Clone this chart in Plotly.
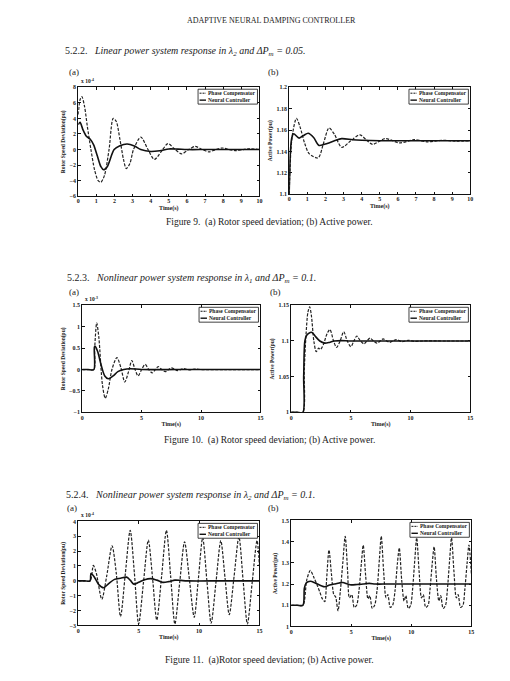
import plotly.graph_objects as go

# ---------------- DATA ----------------
# Figure 9(a): rotor speed deviation (x1e-4 pu)
f9a_pc_t = [0, 0.1, 0.2, 0.35, 0.5, 0.7, 0.9, 1.1, 1.25, 1.45, 1.7, 1.93, 2.1, 2.3, 2.5, 2.65, 2.85, 3.05,
            3.45, 3.85, 4.2, 4.6, 4.95, 5.3, 5.7, 6.1, 6.45, 6.85, 7.2, 7.6, 7.95, 8.35, 8.7, 9.1, 9.45, 10]
f9a_pc_v = [4.5, 6.4, 6.8, 5.5, 3.0, 0.0, -2.6, -4.0, -4.2, -3.3, 0.0, 4.0, 3.6, 1.3, -1.3, -2.45, -1.8, 0.0,
            1.6, 0.0, -1.27, -0.2, 0.76, 0.1, -0.55, 0.0, 0.4, 0.0, -0.3, 0.0, 0.2, 0.0, -0.15, 0.0, 0.1, 0.0]
f9a_nc_t = [0, 0.1, 0.25, 0.45, 0.65, 0.85, 1.05, 1.25, 1.4, 1.6, 1.98, 2.3, 2.7, 3.1, 3.45, 4.0, 4.5, 5.0,
            5.5, 6.0, 7, 8, 9, 10]
f9a_nc_v = [3.2, 3.5, 2.6, 1.7, 1.35, 0.6, -0.8, -2.2, -2.6, -2.2, 0.0, 0.5, 0.72, 0.45, 0.0, -0.25, -0.15, 0.08,
            0.05, 0.0, 0, 0, 0, 0]

# Figure 9(b): active power (pu)
f9b_pc_t = [0, 0.1, 0.2, 0.4, 0.6, 0.85, 1.1, 1.6, 1.9, 2.2, 2.5, 2.9, 3.4, 3.9, 4.25, 4.6, 5.3, 6.1, 6.9,
            7.65, 8.45, 9.2, 10]
f9b_pc_v = [1.1, 1.142, 1.158, 1.171, 1.163, 1.148, 1.138, 1.134, 1.148, 1.162, 1.156, 1.1438, 1.150, 1.1556,
            1.151, 1.1466, 1.152, 1.148, 1.151, 1.149, 1.1505, 1.1497, 1.15]
f9b_nc_t = [0, 0.07, 0.15, 0.25, 0.55, 0.8, 1.05, 1.35, 1.65, 2.1, 2.5, 2.9, 3.5, 4.0, 5, 6, 8, 10]
f9b_nc_v = [1.1, 1.14, 1.153, 1.1565, 1.1525, 1.155, 1.157, 1.153, 1.1457, 1.1475, 1.150, 1.152, 1.151,
            1.1505, 1.150, 1.15, 1.15, 1.15]

# Figure 10(a): rotor speed deviation (x1e-3 pu)
f10a_pc_t = [0, 0.5, 0.98, 1.05, 1.22, 1.4, 1.7, 1.94, 2.2, 2.5, 2.92, 3.25, 3.58, 3.9, 4.17, 4.45, 4.7, 5.0,
             5.3, 5.6, 5.9, 6.15, 6.4, 6.7, 7.0, 7.5, 8.0, 8.5, 9.0, 9.5, 10, 12, 15]
f10a_pc_v = [0, 0, 0, 0.5, 1.09, 0.75, -0.35, -0.67, -0.45, 0.0, 0.28, 0.05, -0.29, -0.05, 0.21, 0.0, -0.15,
             0.0, 0.12, 0.0, -0.08, 0.0, 0.07, 0.0, -0.05, 0.04, -0.025, 0.02, -0.01, 0.01, 0, 0, 0]
f10a_nc_t = [0, 0.5, 0.98, 1.03, 1.1, 1.3, 1.6, 1.9, 2.2, 2.6, 3.0, 3.5, 4.0, 5, 8, 12, 15]
f10a_nc_v = [0, 0, 0, 0.53, 0.54, 0.42, 0.1, -0.15, -0.215, -0.15, -0.05, 0.0, 0.02, 0.0, 0, 0, 0]

# Figure 10(b): active power (pu)
f10b_pc_t = [0, 0.5, 0.98, 1.1, 1.25, 1.4, 1.55, 1.7, 1.9, 2.1, 2.3, 2.45, 2.7, 3.0, 3.25, 3.55, 3.8, 4.1,
             4.4, 4.7, 5.0, 5.25, 5.5, 5.8, 6.1, 6.35, 6.6, 6.9, 7.2, 7.45, 7.7, 8.0, 8.25, 8.5, 8.8, 9.3,
             9.8, 10.3, 11, 13, 15]
f10b_pc_v = [1.0, 1.0, 1.0, 1.06, 1.11, 1.14, 1.148, 1.135, 1.1, 1.085, 1.09, 1.088, 1.095, 1.11, 1.116, 1.1,
             1.091, 1.1, 1.113, 1.1, 1.092, 1.1, 1.107, 1.1, 1.096, 1.1, 1.104, 1.1, 1.097, 1.1, 1.103, 1.1,
             1.098, 1.1, 1.102, 1.099, 1.101, 1.0995, 1.1, 1.1, 1.1]
f10b_nc_t = [0, 0.5, 0.98, 1.05, 1.15, 1.3, 1.6, 1.75, 2.0, 2.4, 2.8, 3.2, 3.6, 4.2, 5, 8, 12, 15]
f10b_nc_v = [1.0, 1.0, 1.0, 1.05, 1.1, 1.108, 1.112, 1.112, 1.107, 1.1, 1.097, 1.098, 1.1, 1.1005, 1.1, 1.1,
             1.1, 1.1]

# Figure 11(a): rotor speed deviation (x1e-4 pu)
f11a_pc_t = [0, 0.5, 0.98, 1.25, 1.5, 1.95, 2.35, 2.8, 3.15, 3.5, 3.9, 4.3, 4.65, 5.0, 5.4, 5.8, 6.15, 6.5,
             6.9, 7.3, 7.65, 8.0, 8.4, 8.8, 9.2, 9.6, 9.95, 10.3, 10.65, 11.0, 11.4, 11.8, 12.15, 12.5, 12.9,
             13.3, 13.65, 14.0, 14.4, 14.8, 15.0]
f11a_pc_v = [0, 0, 0, 1.04, 0.5, -1.24, 0.3, 2.36, 0.5, -2.4, 0.5, 3.4, 0.5, -2.9, -0.1, 2.74, 0.2, -2.63,
             0.3, 3.4, 0.3, -2.9, -0.1, 2.63, 0.1, -2.45, 0.2, 2.9, 0.0, -2.85, -0.1, 2.7, 0.2, -2.27, 0.3,
             2.96, 0.0, -2.9, -0.1, 2.7, 1.0]
f11a_nc_t = [0, 0.5, 0.98, 1.05, 1.3, 1.7, 2.1, 2.5, 3.0, 3.5, 4.0, 4.3, 4.6, 5.0, 5.5, 6.0, 6.5, 7.0, 7.5,
             8.0, 8.5, 9, 12, 15]
f11a_nc_v = [0, 0, 0, 0.5, 0.3, -0.25, -0.46, -0.2, 0.1, 0.18, 0.25, 0.05, -0.22, -0.1, 0.08, 0.15, 0.05,
             -0.1, -0.05, 0.05, 0.03, 0, 0, 0]

# Figure 11(b): active power (pu)
f11b_pc_t = [0, 0.5, 0.98, 1.3, 1.6, 1.9, 2.2, 2.4, 2.6, 2.8, 2.95, 3.15, 3.35, 3.55, 3.7, 3.9, 4.1, 4.3,
             4.5, 4.7, 4.85, 5.05, 5.25, 5.45, 5.65, 5.85, 6.0, 6.2, 6.4, 6.55, 6.75, 6.95, 7.15, 7.35, 7.5,
             7.7, 7.9, 8.05, 8.25, 8.45, 8.65, 8.85, 9.0, 9.2, 9.4, 9.55, 9.75, 9.95, 10.1, 10.3, 10.45,
             10.65, 10.85, 11.0, 11.2, 11.4, 11.55, 11.75, 11.9, 12.1, 12.3, 12.45, 12.65, 12.85, 13.0,
             13.2, 13.35, 13.55, 13.75, 13.9, 14.1, 14.3, 14.45, 14.65, 14.8, 15.0]
f11b_pc_v = [1.1, 1.1, 1.1, 1.22, 1.264, 1.23, 1.19, 1.16, 1.13, 1.117, 1.22, 1.36, 1.25, 1.15, 1.14,
             1.074, 1.17, 1.3, 1.425, 1.26, 1.135, 1.15, 1.09, 1.1, 1.17, 1.3, 1.383, 1.24, 1.13, 1.145,
             1.085, 1.1, 1.17, 1.32, 1.425, 1.26, 1.136, 1.15, 1.09, 1.1, 1.17, 1.3, 1.37, 1.22, 1.12,
             1.145, 1.085, 1.1, 1.17, 1.32, 1.418, 1.26, 1.135, 1.15, 1.09, 1.1, 1.17, 1.3, 1.376, 1.22,
             1.12, 1.145, 1.085, 1.1, 1.17, 1.32, 1.418, 1.26, 1.135, 1.15, 1.09, 1.1, 1.17, 1.3, 1.384,
             1.25]
f11b_nc_t = [0, 0.5, 0.98, 1.1, 1.25, 1.6, 2.0, 2.5, 2.8, 3.2, 3.6, 4.0, 4.3, 4.7, 5.0, 5.5, 6.0, 6.5,
             7.0, 8, 10, 12, 15]
f11b_nc_v = [1.1, 1.1, 1.1, 1.18, 1.205, 1.213, 1.205, 1.192, 1.187, 1.195, 1.2, 1.205, 1.207, 1.2, 1.196,
             1.198, 1.2, 1.203, 1.2, 1.2, 1.2, 1.2, 1.2]

# Axis ranges / tick steps
x_ranges = [[0, 10], [0, 10], [0, 15], [0, 15], [0, 15], [0, 15]]
x_dticks = [1, 1, 5, 5, 5, 5]
y_ranges = [[-6, 8], [1.1, 1.2], [-1, 1.5], [1.0, 1.15], [-3, 4], [1.0, 1.5]]
y_dticks = [2, 0.02, 0.5, 0.05, 1, 0.1]
y_titles = ["Rotor Speed Deviation(pu)", "Active Power(pu)"] * 3
exponents = ["x 10<sup>-4</sup>", None, "x 10<sup>-3</sup>", None, "x 10<sup>-4</sup>", None]
series_names = ["Phase Compensator", "Neural Controller"]

panels = [
    (f9a_pc_t, f9a_pc_v, f9a_nc_t, f9a_nc_v),
    (f9b_pc_t, f9b_pc_v, f9b_nc_t, f9b_nc_v),
    (f10a_pc_t, f10a_pc_v, f10a_nc_t, f10a_nc_v),
    (f10b_pc_t, f10b_pc_v, f10b_nc_t, f10b_nc_v),
    (f11a_pc_t, f11a_pc_v, f11a_nc_t, f11a_nc_v),
    (f11b_pc_t, f11b_pc_v, f11b_nc_t, f11b_nc_v),
]

# ---------------- LAYOUT ----------------
W, H = 510, 681
# plot boxes in page pixels: (left, right, top, bottom)
boxes = [(77, 260, 85, 195), (290, 473, 85, 193),
         (81, 261, 305, 413), (292, 473, 305, 413),
         (77, 260, 523, 628), (292, 474, 522, 629)]

def px(x):
    return x / W

def py(y):
    return 1 - y / H

SERIF = "Liberation Serif"
TXT = "#1a1a1a"

fig = go.Figure()
layout = dict(width=W, height=H, margin=dict(l=0, r=0, t=0, b=0),
              paper_bgcolor="white", plot_bgcolor="white", showlegend=False,
              font=dict(family=SERIF, color=TXT))
annotations = []
shapes = []

for i, (box, data) in enumerate(zip(boxes, panels)):
    n = i + 1
    xa = "x" if n == 1 else f"x{n}"
    ya = "y" if n == 1 else f"y{n}"
    l, r, t, b = box
    pc_t, pc_v, nc_t, nc_v = data
    fig.add_trace(go.Scatter(x=pc_t, y=pc_v, mode="lines", name=series_names[0],
                             line=dict(color="#222222", width=1.2, dash="3px,1.5px", shape="spline", smoothing=0.8),
                             xaxis=xa, yaxis=ya, cliponaxis=True))
    fig.add_trace(go.Scatter(x=nc_t, y=nc_v, mode="lines", name=series_names[1],
                             line=dict(color="#111111", width=1.6, shape="spline", smoothing=0.8),
                             xaxis=xa, yaxis=ya, cliponaxis=True))
    axcommon = dict(showgrid=False, zeroline=False, showline=True, linecolor="#111", linewidth=1,
                    mirror="allticks", ticks="inside", ticklen=2.5, tickwidth=0.8, tickcolor="#111",
                    tickfont=dict(family=SERIF, size=6, color=TXT, weight="bold"))
    layout["xaxis" if n == 1 else f"xaxis{n}"] = dict(
        domain=[px(l), px(r)], anchor=ya, range=x_ranges[i], dtick=x_dticks[i], tick0=0,
        ticklabelstandoff=-1,
        title=dict(text="Time(s)", font=dict(family=SERIF, size=6, color=TXT, weight="bold"), standoff=2),
        **axcommon)
    layout["yaxis" if n == 1 else f"yaxis{n}"] = dict(
        domain=[py(b), py(t)], anchor=xa, range=y_ranges[i], dtick=y_dticks[i], tick0=0,
        ticklabelstandoff=0,
        title=dict(text=y_titles[i], font=dict(family=SERIF, size=5.5, color=TXT, weight="bold"), standoff=3),
        **axcommon)
    # exponent label
    if exponents[i]:
        annotations.append(dict(text=exponents[i], x=px(l + 1), y=py(t - 1), xref="paper", yref="paper",
                                xanchor="left", yanchor="bottom", showarrow=False,
                                font=dict(family=SERIF, size=5.5, color=TXT, weight="bold")))
    # legend box (top-right inside)
    lg_r, lg_t = r - 2, t + 2
    lg_l, lg_b = lg_r - 60, lg_t + 15
    shapes.append(dict(type="rect", xref="paper", yref="paper", x0=px(lg_l), x1=px(lg_r), y0=py(lg_b),
                       y1=py(lg_t), line=dict(color="#111", width=0.8), fillcolor="white"))
    for k, (nm, dsh, wd) in enumerate([(series_names[0], "2px,1px", 1.0), (series_names[1], "solid", 1.4)]):
        yy = lg_t + 4 + 7 * k
        shapes.append(dict(type="line", xref="paper", yref="paper", x0=px(lg_l + 1.5), x1=px(lg_l + 8),
                           y0=py(yy), y1=py(yy), line=dict(color="#111", width=wd, dash=dsh)))
        annotations.append(dict(text=nm, x=px(lg_l + 8.5), y=py(yy), xref="paper", yref="paper",
                                xanchor="left", yanchor="middle", showarrow=False,
                                font=dict(family=SERIF, size=5.5, color=TXT, weight="bold")))

def note(text, x, y, size, xanchor="left"):
    annotations.append(dict(text=text, x=px(x), y=py(y), xref="paper", yref="paper", xanchor=xanchor,
                            yanchor="middle", showarrow=False, font=dict(family=SERIF, size=size, color=TXT)))

note("ADAPTIVE NEURAL DAMPING CONTROLLER", 272, 18, 8, "center")
note("5.2.2.&nbsp;&nbsp;&nbsp;<i>Linear power system response in λ<sub>2</sub> and ΔP<sub>m</sub> = 0.05.</i>", 62, 49, 10)
note("(a)", 66, 70, 9)
note("(b)", 267, 70, 9)
note("Figure 9.&nbsp;&nbsp;(a) Rotor speed deviation; (b) Active power.", 270, 221, 9.5, "center")
note("5.2.3.&nbsp;&nbsp;&nbsp;<i>Nonlinear power system response in λ<sub>1</sub> and ΔP<sub>m</sub> = 0.1.</i>", 64, 278, 10)
note("(a)", 66, 292, 9)
note("(b)", 269, 292, 9)
note("Figure 10.&nbsp;&nbsp;(a) Rotor speed deviation; (b) Active power.", 270, 441, 9.5, "center")
note("5.2.4.&nbsp;&nbsp;&nbsp;<i>Nonlinear power system response in λ<sub>2</sub> and ΔP<sub>m</sub> = 0.1.</i>", 63, 497, 10)
note("(a)", 64, 509, 9)
note("(b)", 267, 509, 9)
note("Figure 11.&nbsp;&nbsp;(a)Rotor speed deviation; (b) Active power.", 270, 663, 9.5, "center")

layout["annotations"] = annotations
layout["shapes"] = shapes
fig.update_layout(**layout)
fig.write_html("out.html", config={"displayModeBar": False},
               post_script="document.body.style.margin='0';document.body.style.overflow='hidden';")
